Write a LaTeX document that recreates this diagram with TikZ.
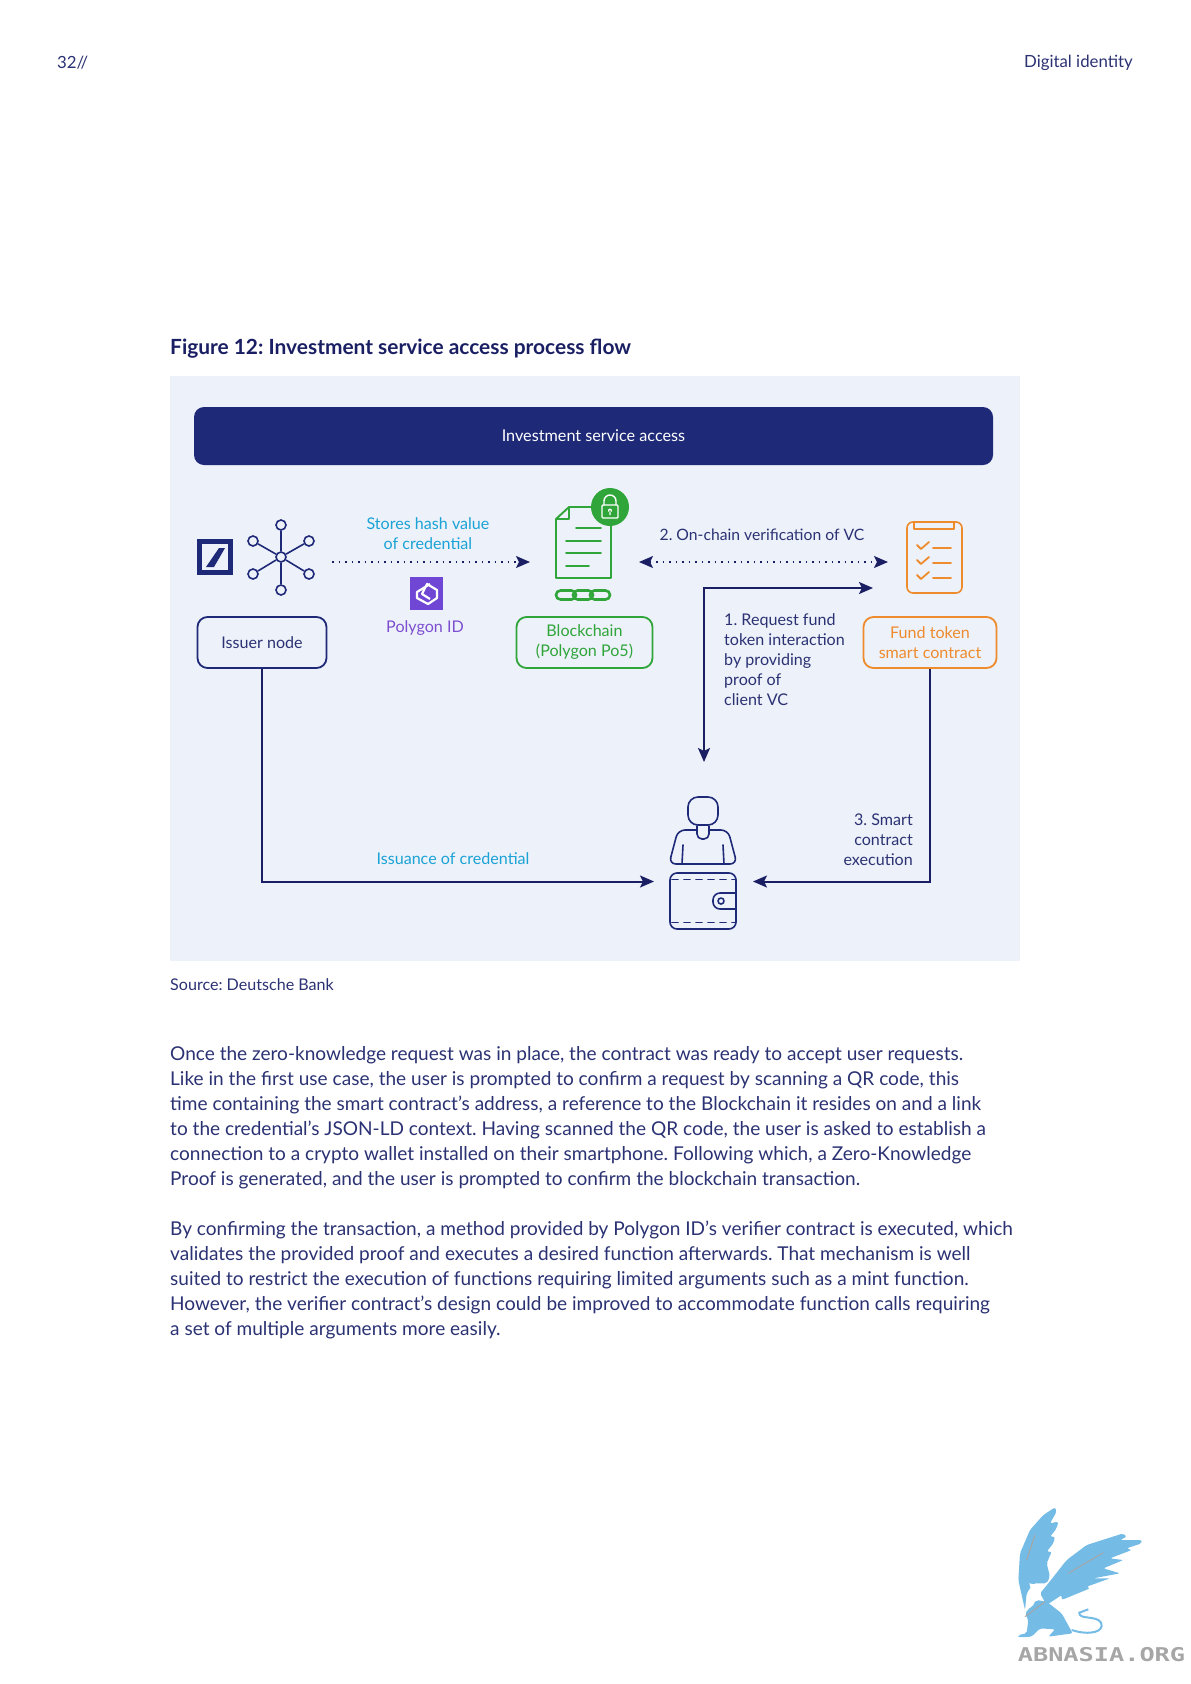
\documentclass[tikz,border=0pt]{standalone}
\usepackage{fontspec}
\setmainfont{Lato}
\newfontfamily\sitefont{DejaVu Sans Mono}
\usetikzlibrary{arrows.meta,positioning}
\frenchspacing
\definecolor{dbnavy}{HTML}{1E2A78}
\definecolor{linenavy}{HTML}{1A1F63}
\definecolor{textnavy}{HTML}{2B3273}
\definecolor{panelblue}{HTML}{EDF1FA}
\definecolor{dbgreen}{HTML}{2FA53A}
\definecolor{dborange}{HTML}{EE8B2D}
\definecolor{dbcyan}{HTML}{1BA3D6}
\definecolor{dbpurple}{HTML}{7D4FD0}
\definecolor{griffin}{HTML}{74BCE6}
\tikzset{
	labelbox/.style={draw, rounded corners=10pt, line width=1.8pt, align=center, minimum height=51pt, inner sep=0pt, font=\frenchspacing\fontsize{16.1}{20}\selectfont},
	figtext/.style={text=textnavy, inner sep=0pt, font=\frenchspacing\fontsize{16.1}{20}\selectfont},
	bodytext/.style={text=textnavy, inner sep=0pt, anchor=north west, align=left, font=\frenchspacing\fontsize{19.05}{25}\selectfont},
	solidarrow/.style={draw=linenavy, line width=2pt, -{Stealth[length=14pt,width=12pt,inset=3pt]}},
	dotarrow/.style={draw=linenavy, line width=1.5pt, dash pattern=on 1.5pt off 5pt, {Stealth[length=14pt,width=12pt,inset=3pt]}-{Stealth[length=14pt,width=12pt,inset=3pt]}},
	icon/.style={line width=1.6pt, line cap=round, line join=round},
}
\begin{document}
\begin{tikzpicture}[x=1pt,y=-1pt]
	\useasboundingbox (0,0) rectangle (1191,1684);

	% page text
	\draw (57,63) node [figtext, anchor=west, font=\fontsize{16.8}{20}\selectfont] (pagenum) {32//};
	\draw (1133,63) node [figtext, anchor=east, font=\fontsize{16.8}{20}\selectfont] (section) {Digital identity};
	\draw (170,349) node [anchor=west, inner sep=0pt, text=linenavy, font=\frenchspacing\fontsize{20.9}{24}\selectfont\bfseries] (figtitle) {Figure 12: Investment service access process flow};
	\draw (170,985) node [figtext, anchor=west] (source) {Source: Deutsche Bank};

	% panel and bar
	\fill [panelblue] (170,376) rectangle (1020,961);
	\draw (593.5,436) node [fill=dbnavy, text=white, rounded corners=10pt, minimum width=799pt, minimum height=58pt, inner sep=0pt, font=\fontsize{16.2}{20}\selectfont, text depth=0pt] (bar) {Investment service access};

	% label boxes
	\draw (262,642.5) node [labelbox, draw=dbnavy, text=textnavy, minimum width=129pt] (issuer) {Issuer node};
	\draw (584.5,642.5) node [labelbox, draw=dbgreen, text=dbgreen, minimum width=136pt] (chain) {Blockchain\\(Polygon Po5)};
	\draw (930,642.5) node [labelbox, draw=dborange, text=dborange, minimum width=133pt] (fund) {Fund token\\smart contract};

	% free labels
	\draw (428,533.5) node [figtext, text=dbcyan, align=center] (stores) {Stores hash value\\of credential};
	\draw (425,628.5) node [figtext, text=dbpurple] (polyid) {Polygon ID};
	\draw (762,535) node [figtext, font=\frenchspacing\fontsize{15.7}{20}\selectfont] (verify) {2. On-chain verification of VC};
	\draw (724,660) node [figtext, anchor=west, align=left] (request) {1. Request fund\\token interaction\\by providing\\proof of\\client VC};
	\draw (913,839.5) node [figtext, anchor=east, align=right] (execute) {3. Smart\\contract\\execution};
	\draw (453,858.5) node [figtext, text=dbcyan] (issuance) {Issuance of credential};

	% bank logo
	\draw [dbnavy, line width=5pt] (199.5,541.5) rectangle (230.5,572.5);
	\fill [dbnavy] (219,548) -- (225,548) -- (214,567) -- (206,567) -- cycle;

	% network icon
	\draw (281,557) node [circle, draw=dbnavy, line width=1.6pt, minimum size=10pt, inner sep=0pt] (hub) {};
	\foreach \nx/\ny/\nname in {281/525/na, 281/590/nb, 253/541/nc, 309/541/nd, 253/574/ne, 309/574/nf} {
		\draw (\nx,\ny) node [circle, draw=dbnavy, line width=1.6pt, minimum size=10pt, inner sep=0pt] (\nname) {};
		\draw [dbnavy, line width=1.6pt] (hub) -- (\nname);
	}

	% polygon logo
	\fill [dbpurple!90!blue] (410,577) rectangle (443,610);
	\draw [white, line width=2.2pt, line join=round] (430,584) -- (417,592) -- (417,598) -- (428,604) -- (437,598) -- (437,590) -- (427,584) -- (422,594) -- (430,599);

	% document icon
	\draw [dbgreen, icon, line width=1.9pt] (569,507) -- (611,507) -- (611,578) -- (556,578) -- (556,519) -- cycle (569,507) -- (569,519) -- (556,519);
	\foreach \ly/\lx/\lxe in {528/576/601, 541/566/601, 553/566/601, 566/566/589}
		\draw [dbgreen, icon, line width=1.9pt] (\lx,\ly) -- (\lxe,\ly);
	\foreach \cx in {566,583,600}
		\draw [dbgreen, line width=2.6pt, rounded corners=4.5pt] (\cx-10,590.5) rectangle (\cx+10,599.5);
	\fill [dbgreen] (610,507) circle (19);
	\draw [white, line width=1.4pt, rounded corners=1pt] (602,505) rectangle (618,518);
	\draw [white, line width=1.4pt] (604,505) -- (604,501) arc [start angle=180, end angle=360, radius=6] -- (616,505);
	\fill [white] (610,510.5) circle (2) (609.3,510) rectangle (610.7,515);

	% checklist icon
	\draw [dborange, icon, rounded corners=6pt] (907,522) rectangle (962,593);
	\draw [dborange, icon] (914,522) -- (914,529) -- (954,529) -- (954,522);
	\foreach \ky in {546,561,576} {
		\draw [dborange, icon, line width=1.8pt] (917,\ky-1) -- (921,\ky+3) -- (929,\ky-4);
		\draw [dborange, icon, line width=1.6pt] (933,\ky+2) -- (951,\ky+2);
	}

	% person and wallet
	\draw [dbnavy, icon, rounded corners=10pt] (688,797) rectangle (718,825);
	\draw [dbnavy, icon, rounded corners=5pt] (697,826) -- (697,839) -- (709,839) -- (709,826);
	\draw [dbnavy, icon, rounded corners=7pt] (697,830) -- (678,830) -- (669,864) -- (737,864) -- (728,830) -- (709,830);
	\draw [dbnavy, icon] (683,845) -- (682,864) (723,845) -- (724,864);
	\draw [dbnavy, icon, rounded corners=7pt] (670,873) rectangle (736,929);
	\draw [dbnavy, icon, dash pattern=on 6pt off 6pt] (672,879.5) -- (736,879.5) (672,922.5) -- (736,922.5);
	\draw [dbnavy, icon, rounded corners=7pt] (736,893) -- (713,893) -- (713,909) -- (736,909);
	\draw [dbnavy, icon] (721,901) circle (3);

	% griffin and site name
	\begin{scope}[shift={(990,1480)}, x=0.3333pt, y=-0.3333pt]
		\fill [griffin, rounded corners=2pt] (195,82) -- (200,95) -- (180,130) -- (205,125) -- (200,145) -- (180,170) -- (195,170) -- (190,190) -- (170,215) -- (185,215) -- (170,250) -- (180,290) -- (170,310) -- (130,310) -- (110,340) -- (105,390) -- (85,300) -- (90,220) -- (120,150) -- (160,105) -- cycle;
		\fill [griffin, rounded corners=2pt] (175,310) -- (230,240) -- (290,195) -- (400,160) -- (410,170) -- (390,180) -- (455,180) -- (455,190) -- (410,205) -- (425,210) -- (360,235) -- (400,240) -- (340,265) -- (390,280) -- (310,295) -- (360,295) -- (290,320) -- (300,325) -- (215,360) -- (215,345) -- (170,375) -- (150,340) -- cycle;
		\fill [griffin, rounded corners=2pt] (105,400) -- (140,360) -- (170,365) -- (215,400) -- (248,460) -- (175,470) -- (195,448) -- (150,445) -- (125,470) -- (85,472) -- (85,465) -- (110,460) -- (115,420) -- cycle;
		\fill [white] (118,310) -- (165,320) -- (145,335) -- (130,375) -- (118,385) -- (125,335) -- cycle;
		\draw [griffin, line width=2pt] (245,450) .. controls (300,468) and (345,455) .. (333,428) .. controls (320,405) and (265,420) .. (268,398) -- (295,388);
		\draw [gray!70, line width=1pt] (135,165) -- (110,240) (340,218) -- (235,280) (105,410) -- (165,365);
	\end{scope}
	\draw (1101.5,1655) node [xscale=1.33, inner sep=0pt, text=gray!70, font=\fontsize{19}{20}\selectfont\sitefont\bfseries] (site) {ABNASIA.ORG};

	% flow ends
	\coordinate (storesa) at (332,562);
	\coordinate (storesb) at (530,562);
	\coordinate (verifya) at (639,562);
	\coordinate (verifyb) at (888,562);
	\coordinate (requesta) at (873,588);
	\coordinate (requestb) at (704,762);
	\coordinate (walleta) at (654,881.5);
	\coordinate (walletb) at (753,881.5);

	\draw [draw=linenavy, line width=1.5pt, dash pattern=on 1.5pt off 5pt, -{Stealth[length=14pt,width=12pt,inset=3pt]}] (storesa) -- (storesb);
	\draw [dotarrow] (verifya) -- (verifyb);
	\draw [solidarrow, {Stealth[length=14pt,width=12pt,inset=3pt]}-{Stealth[length=14pt,width=12pt,inset=3pt]}] (requestb) |- (requesta);
	\draw [solidarrow] (issuer.south) |- (walleta);
	\draw [solidarrow] (fund.south) |- (walletb);

	% body text
	\draw (170,1046) node [bodytext] (parone) {Once the zero-knowledge request was in place, the contract was ready to accept user requests.\\Like in the first use case, the user is prompted to confirm a request by scanning a QR code, this\\time containing the smart contract’s address, a reference to the Blockchain it resides on and a link\\to the credential’s JSON-LD context. Having scanned the QR code, the user is asked to establish a\\connection to a crypto wallet installed on their smartphone. Following which, a Zero-Knowledge\\Proof is generated, and the user is prompted to confirm the blockchain transaction.};
	\draw (170,1220.5) node [bodytext] (partwo) {By confirming the transaction, a method provided by Polygon ID’s verifier contract is executed, which\\validates the provided proof and executes a desired function afterwards. That mechanism is well\\suited to restrict the execution of functions requiring limited arguments such as a mint function.\\However, the verifier contract’s design could be improved to accommodate function calls requiring\\a set of multiple arguments more easily.};
\end{tikzpicture}
\end{document}
